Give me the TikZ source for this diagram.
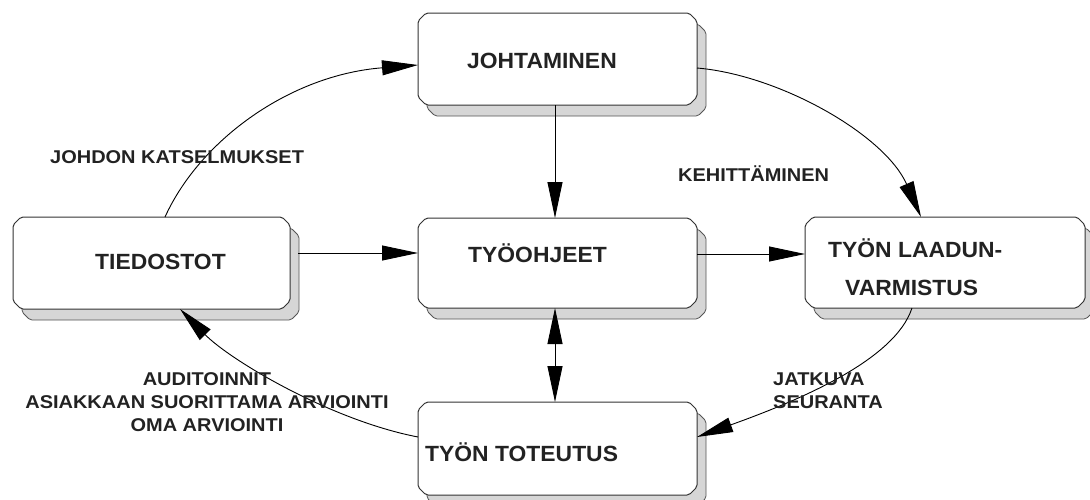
\documentclass[tikz,border=0pt]{standalone}
\usepackage{fontspec}
\setmainfont{Liberation Sans}
\usetikzlibrary{arrows.meta,calc}
\definecolor{boxline}{HTML}{333333}
\definecolor{shadefill}{HTML}{D6D6D6}
\definecolor{shadeline}{HTML}{555555}
\definecolor{txt}{HTML}{222222}
\newcommand{\bt}[1]{\scalebox{1.04}[1]{#1}}
\newcommand{\lt}[1]{\scalebox{1.08}[1]{#1}}
% chamfered outline around a named node, shifted by #2,#3 (canvas pt)
\newcommand{\chpath}[3]{let \p1=(#1.north west), \p2=(#1.south east) in
 (\x1+#2+8pt,\y1+#3) -- (\x2+#2-8pt,\y1+#3) -- (\x2+#2,\y1+#3-8pt) -- (\x2+#2,\y2+#3+8pt)
 -- (\x2+#2-8pt,\y2+#3) -- (\x1+#2+8pt,\y2+#3) -- (\x1+#2,\y2+#3+8pt) -- (\x1+#2,\y1+#3-8pt) -- cycle}
\newcommand{\chbox}[1]{%
 \filldraw[shadowst] \chpath{#1}{9pt}{-11pt};
 \filldraw[facest] \chpath{#1}{0pt}{0pt};}
\begin{document}
\begin{tikzpicture}[x=1pt,y=-1pt,
  pbox/.style={rectangle, inner sep=0pt, outer sep=0pt},
  shadowst/.style={fill=shadefill, draw=shadeline, line width=0.8pt, rounded corners=2pt},
  facest/.style={fill=white, draw=boxline, line width=1pt, rounded corners=2pt},
  btext/.style={font=\bfseries\fontsize{22}{26}\selectfont, text=txt, inner sep=0pt},
  ltext/.style={font=\bfseries\fontsize{18.5}{23}\selectfont, text=txt, inner sep=0pt},
  conn/.style={draw=black, line width=0.9pt, -{Triangle[length=36pt,width=15pt]}},
  dconn/.style={draw=black, line width=0.9pt, {Triangle[length=36pt,width=15pt]}-{Triangle[length=36pt,width=15pt]}}
]
\useasboundingbox (0,0) rectangle (1090,499);
% boxes (named frames)
\node[pbox, minimum width=279pt, minimum height=92pt] (joh) at (557.5,59) {};
\node[pbox, minimum width=277pt, minimum height=92pt] (tie) at (151.5,263) {};
\node[pbox, minimum width=279pt, minimum height=90pt] (tyo) at (557.5,263) {};
\node[pbox, minimum width=280pt, minimum height=91pt] (laa) at (945,262.5) {};
\node[pbox, minimum width=279pt, minimum height=93pt] (tot) at (557.5,448.5) {};
\chbox{joh}\chbox{tie}\chbox{tyo}\chbox{laa}\chbox{tot}
% box texts
\node[btext, anchor=west] (tjoh) at (467,61) {\bt{JOHTAMINEN}};
\node[btext, anchor=west] (ttie) at (95,262) {\bt{TIEDOSTOT}};
\node[btext, anchor=west] (ttyo) at (468,253) {\bt{TYÖOHJEET}};
\node[btext, anchor=west] (tlaa1) at (828,248) {\bt{TYÖN LAADUN-}};
\node[btext, anchor=west] (tlaa2) at (845,288) {\bt{VARMISTUS}};
\node[btext, anchor=west] (ttot) at (425,452) {\bt{TYÖN TOTEUTUS}};
% connectors
\draw[conn] ($(tie.north)+(13.5,0)$) .. controls (200,140) and (290,75) .. ($(joh.west)+(0,6)$);
\draw[conn] ($(joh.east)+(0,9)$) .. controls (780,75) and (885,135) .. ($(laa.north)+(-24,0)$);
\draw[conn] ($(joh.south)+(-2.5,0)$) -- ($(tyo.north)+(-2.5,0)$);
\draw[conn] ($(tie.east)+(8,-10)$) -- ($(tyo.west)+(0,-10)$);
\draw[conn] ($(tyo.east)+(0,-9)$) -- ($(laa.west)+(0,-8.5)$);
\draw[dconn] ($(tyo.south)+(-2.5,0)$) -- ($(tot.north)+(-2.5,0)$);
\draw[conn] ($(laa.south)+(-33,0)$) .. controls (895,360) and (800,400) .. ($(tot.east)+(0,-11.5)$);
\draw[conn] ($(tot.west)+(0,-11.5)$) .. controls (330,420) and (230,360) .. ($(tie.south)+(28.5,0)$);
% labels
\node[ltext, anchor=west] (l1) at (50,157) {\lt{JOHDON KATSELMUKSET}};
\node[ltext, anchor=west] (l2) at (678,174) {\lt{KEHITTÄMINEN}};
\node[ltext, align=center] (l3) at (207,402) {\lt{AUDITOINNIT}\\\lt{ASIAKKAAN SUORITTAMA ARVIOINTI}\\\lt{OMA ARVIOINTI}};
\node[ltext, align=left, anchor=west] (l4) at (773,391) {\lt{JATKUVA}\\\lt{SEURANTA}};
\end{tikzpicture}
\end{document}
